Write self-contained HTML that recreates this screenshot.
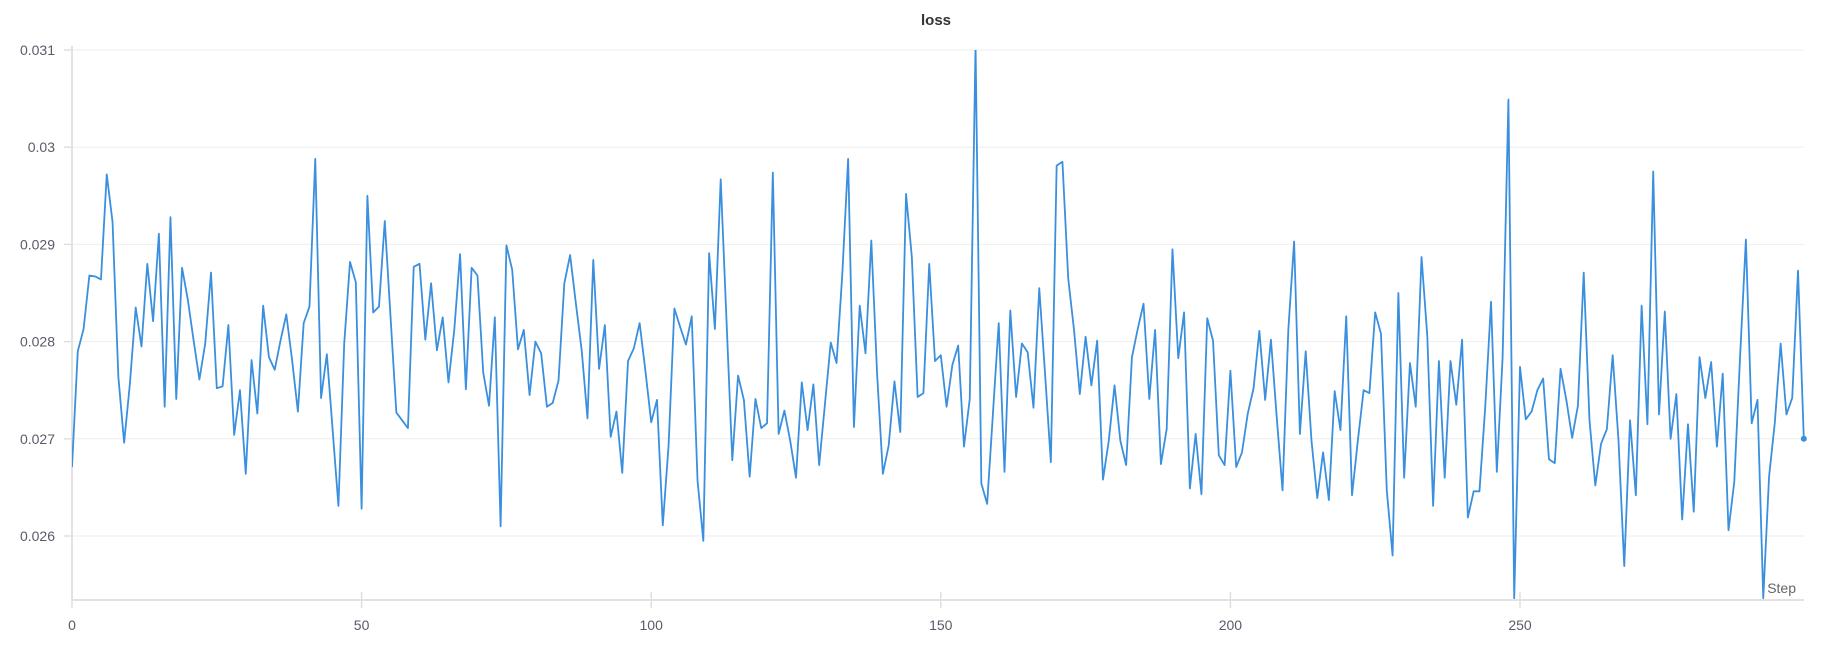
<!DOCTYPE html>
<html><head><meta charset="utf-8"><style>
html,body{margin:0;padding:0;background:#fff;}
svg{display:block;font-family:"Liberation Sans",sans-serif;}
</style></head><body>
<svg id="chart" width="1833" height="645" viewBox="0 0 1833 645">
<text x="936" y="25" text-anchor="middle" font-size="15" font-weight="bold" fill="#333">loss</text>
<g id="grid"></g>
<g id="axes"></g>
<g id="series"></g>
</svg>
<script>
const yTicks = [0.026, 0.027, 0.028, 0.029, 0.03, 0.031];
const yTickLabels = ["0.026", "0.027", "0.028", "0.029", "0.03", "0.031"];
const xTicks = [0, 50, 100, 150, 200, 250];
const xTickLabels = ["0", "50", "100", "150", "200", "250"];
const lossValues = [
0.02671,0.02790,0.02813,0.02868,0.02867,0.02864,0.02972,0.02923,0.02764,0.02696,
0.02757,0.02835,0.02795,0.02880,0.02821,0.02911,0.02733,0.02928,0.02741,0.02876,
0.02843,0.02801,0.02761,0.02798,0.02871,0.02752,0.02754,0.02817,0.02704,0.02750,
0.02664,0.02781,0.02726,0.02837,0.02784,0.02771,0.02801,0.02828,0.02781,0.02728,
0.02819,0.02836,0.02988,0.02742,0.02787,0.02709,0.02631,0.02798,0.02882,0.02861,
0.02628,0.02950,0.02830,0.02836,0.02924,0.02825,0.02727,0.02719,0.02711,0.02877,
0.02880,0.02802,0.02860,0.02791,0.02825,0.02758,0.02812,0.02890,0.02751,0.02876,
0.02868,0.02768,0.02734,0.02825,0.02610,0.02899,0.02874,0.02792,0.02812,0.02745,
0.02800,0.02788,0.02733,0.02737,0.02760,0.02860,0.02889,0.02839,0.02791,0.02721,
0.02884,0.02772,0.02817,0.02702,0.02728,0.02665,0.02780,0.02793,0.02819,0.02770,
0.02717,0.02740,0.02611,0.02693,0.02834,0.02815,0.02797,0.02826,0.02657,0.02595,
0.02891,0.02813,0.02967,0.02822,0.02678,0.02765,0.02740,0.02661,0.02741,0.02711,
0.02716,0.02974,0.02705,0.02729,0.02698,0.02660,0.02758,0.02709,0.02756,0.02673,
0.02736,0.02799,0.02778,0.02870,0.02988,0.02712,0.02837,0.02788,0.02904,0.02767,
0.02664,0.02693,0.02759,0.02707,0.02952,0.02887,0.02743,0.02747,0.02880,0.02780,
0.02786,0.02733,0.02776,0.02796,0.02692,0.02741,0.03105,0.02654,0.02633,0.02726,
0.02819,0.02666,0.02832,0.02743,0.02798,0.02789,0.02732,0.02855,0.02767,0.02676,
0.02981,0.02985,0.02865,0.02812,0.02746,0.02805,0.02755,0.02801,0.02658,0.02698,
0.02755,0.02698,0.02673,0.02784,0.02813,0.02839,0.02741,0.02812,0.02674,0.02710,
0.02895,0.02783,0.02830,0.02649,0.02705,0.02643,0.02824,0.02801,0.02683,0.02673,
0.02770,0.02671,0.02686,0.02726,0.02752,0.02811,0.02740,0.02802,0.02722,0.02647,
0.02812,0.02903,0.02705,0.02790,0.02698,0.02639,0.02686,0.02637,0.02749,0.02709,
0.02826,0.02642,0.02698,0.02750,0.02747,0.02830,0.02808,0.02647,0.02580,0.02850,
0.02660,0.02778,0.02733,0.02887,0.02805,0.02631,0.02780,0.02660,0.02780,0.02735,
0.02802,0.02619,0.02646,0.02646,0.02733,0.02841,0.02666,0.02784,0.03049,0.02536,
0.02774,0.02720,0.02728,0.02750,0.02762,0.02679,0.02675,0.02772,0.02740,0.02701,
0.02734,0.02871,0.02719,0.02652,0.02695,0.02710,0.02786,0.02699,0.02569,0.02719,
0.02642,0.02837,0.02715,0.02975,0.02725,0.02831,0.02700,0.02746,0.02617,0.02715,
0.02625,0.02784,0.02742,0.02779,0.02692,0.02767,0.02606,0.02656,0.02785,0.02905,
0.02716,0.02740,0.02536,0.02661,0.02717,0.02798,0.02725,0.02742,0.02873,0.02700
];

const NS = "http://www.w3.org/2000/svg";
const L = 72, R = 1804, T = 50, B = 600;
const yMax = 0.031;
const pxPerStep = 5.792;
function xs(v){ return L + v * pxPerStep; }
function ys(v){ return T + (yMax - v) * 97200; }
function mk(tag, attrs, parent){
  const e = document.createElementNS(NS, tag);
  for (const k in attrs) e.setAttribute(k, attrs[k]);
  parent.appendChild(e);
  return e;
}
const grid = document.getElementById('grid');
const axes = document.getElementById('axes');
const series = document.getElementById('series');

yTicks.forEach((t, i) => {
  const y = ys(t);
  const g = mk('line', {x1: L, x2: R, y1: y, y2: y, stroke: '#eeeeee', 'stroke-width': 1}, grid);
  
  
  const tk = mk('line', {x1: L - 8, x2: L, y1: y, y2: y, stroke: '#e0e0e0', 'stroke-width': 1.5}, axes);
  
  
  const lb = mk('text', {x: 55, y: y + 5, 'text-anchor': 'end', 'font-size': 14, fill: '#5a5a6a'}, axes);
  lb.textContent = yTickLabels[i];
  
  
});
xTicks.forEach((t, i) => {
  const x = xs(t);
  const tk = mk('line', {x1: x, x2: x, y1: B - 8, y2: B + 8, stroke: '#e0e0e0', 'stroke-width': 1.5}, axes);
  
  
  const lb = mk('text', {x: x, y: 630, 'text-anchor': 'middle', 'font-size': 14, fill: '#5a5a6a'}, axes);
  lb.textContent = xTickLabels[i];
  
  
});
const ya = mk('line', {x1: L, x2: L, y1: T - 4, y2: B + 1, stroke: '#e2e2e2', 'stroke-width': 2}, axes);


const xa = mk('line', {x1: L - 1, x2: R, y1: B, y2: B, stroke: '#e2e2e2', 'stroke-width': 2}, axes);


const st = mk('text', {x: 1796, y: 593, 'text-anchor': 'end', 'font-size': 14, fill: '#666'}, axes);
st.textContent = 'Step';



const defs = mk('defs', {}, series);
const cp = mk('clipPath', {id: 'plotclip'}, defs);
mk('rect', {x: L, y: T, width: R - L + 6, height: B - T}, cp);
const pts = lossValues.map((v, i) => xs(i).toFixed(2) + ',' + ys(v).toFixed(2)).join(' ');
const line = mk('polyline', {points: pts, fill: 'none', stroke: '#3a8fde', 'stroke-width': 1.8, 'stroke-linejoin': 'round', 'clip-path': 'url(#plotclip)'}, series);


const li = lossValues.length - 1;
const dot = mk('circle', {cx: xs(li), cy: ys(lossValues[li]), r: 3, fill: '#3a8fde'}, series);


</script>
</body></html>
